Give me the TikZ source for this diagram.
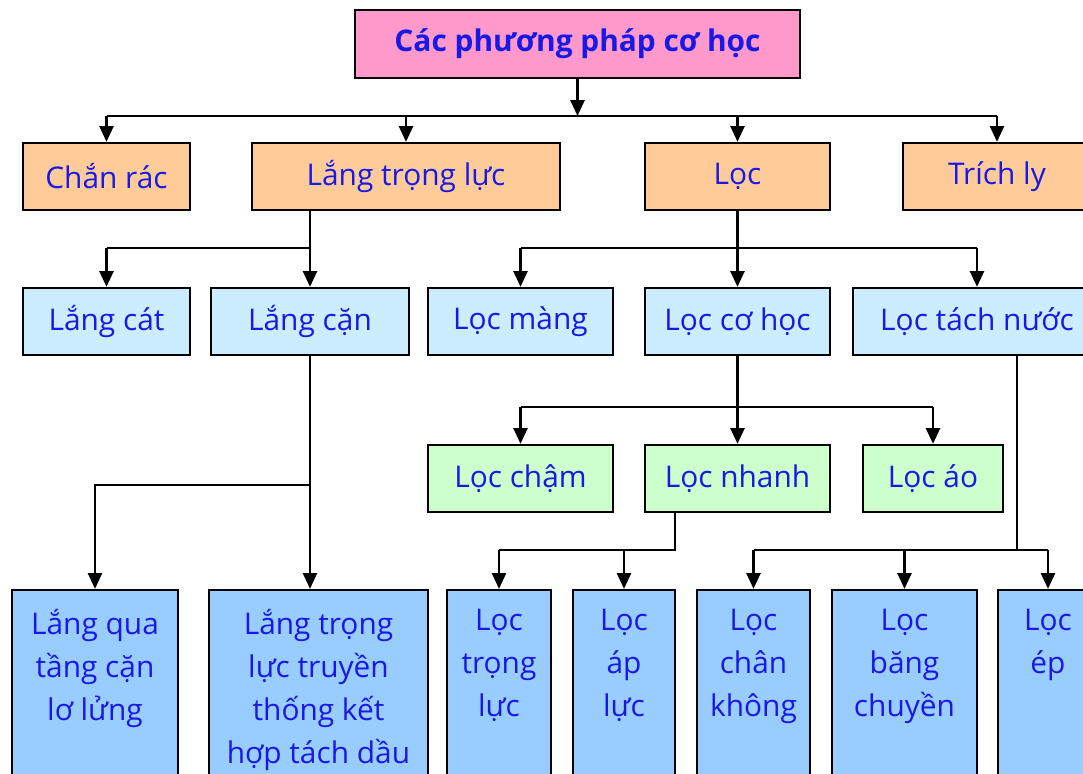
\documentclass[tikz,border=0pt]{standalone}
\usepackage{fontspec}
\setmainfont{Open Sans}
\usetikzlibrary{arrows.meta}
\definecolor{titlepink}{RGB}{255,153,204}
\definecolor{boxorange}{RGB}{255,204,153}
\definecolor{boxpale}{RGB}{204,236,255}
\definecolor{boxgreen}{RGB}{204,255,204}
\definecolor{boxblue}{RGB}{153,204,255}
\definecolor{txtblue}{RGB}{25,25,230}

\begin{document}
\begin{tikzpicture}[x=0.02cm, y=-0.02cm,
    box/.style={draw, line width=1.3pt, inner sep=0pt, text=txtblue, font=\fontsize{17}{24.4}\selectfont},
    lvla/.style={box, fill=boxorange, minimum height=1.34cm},
    lvlb/.style={box, fill=boxpale, minimum height=1.34cm},
    lvlc/.style={box, fill=boxgreen, minimum height=1.34cm},
    lvld/.style={box, fill=boxblue, minimum height=4cm},
    toptext/.style={inner sep=0pt, align=center, text=txtblue, font=\fontsize{17}{24.4}\selectfont, anchor=north, yshift=-0.4cm},
    ln/.style={line width=1.3pt},
    arr/.style={line width=1.3pt, -{Triangle[length=9pt,width=8pt]}}]
    \useasboundingbox (0,0) rectangle (1083,774);
    \clip (0,0) rectangle (1083,774);

    % title
    \node[box, fill=titlepink, minimum width=8.9cm, minimum height=1.36cm, font=\fontsize{17}{22}\selectfont\bfseries] (title) at (577.5,44) {Các phương pháp cơ học};

    % first row
    \node[lvla, minimum width=3.34cm] (chan) at (106.5,176.5) {Chắn rác};
    \node[lvla, minimum width=6.16cm] (langtl) at (406,176.5) {Lắng trọng lực};
    \node[lvla, minimum width=3.7cm] (loc) at (737.5,176.5) {Lọc};
    \node[lvla, minimum width=3.76cm] (trich) at (997,176.5) {Trích ly};

    % second row
    \node[lvlb, minimum width=3.34cm] (langcat) at (106.5,321.5) {Lắng cát};
    \node[lvlb, minimum width=3.96cm] (langcan) at (310,321.5) {Lắng cặn};
    \node[lvlb, minimum width=3.7cm] (locmang) at (520.5,321.5) {Lọc màng};
    \node[lvlb, minimum width=3.7cm] (loccohoc) at (737.5,321.5) {Lọc cơ học};
    \node[lvlb, minimum width=4.96cm] (loctach) at (977,321.5) {Lọc tách nước};

    % third row
    \node[lvlc, minimum width=3.7cm] (locham) at (520.5,478.5) {Lọc chậm};
    \node[lvlc, minimum width=3.7cm] (locnhanh) at (737.5,478.5) {Lọc nhanh};
    \node[lvlc, minimum width=2.8cm] (locao) at (933,478.5) {Lọc áo};

    % fourth row
    \node[lvld, minimum width=3.32cm, label={[toptext]north:Lắng qua\\tầng cặn\\lơ lửng}] (langqua) at (95,690) {};
    \node[lvld, minimum width=4.38cm, label={[toptext]north:Lắng trọng\\lực truyền\\thống kết\\hợp tách dầu}] (langtltt) at (318.5,690) {};
    \node[lvld, minimum width=2.08cm, label={[toptext]north:Lọc\\trọng\\lực}] (loctl) at (499,690) {};
    \node[lvld, minimum width=2.04cm, label={[toptext]north:Lọc\\áp\\lực}] (locap) at (624,690) {};
    \node[lvld, minimum width=2.26cm, label={[toptext]north:Lọc\\chân\\không}] (locck) at (753.5,690) {};
    \node[lvld, minimum width=2.9cm, label={[toptext]north:Lọc\\băng\\chuyền}] (locbc) at (904.5,690) {};
    \node[lvld, minimum width=2cm, label={[toptext]north:Lọc\\ép}] (locep) at (1048,690) {};

    % bus lines
    \coordinate (busa) at (0,116);
    \coordinate (busb) at (0,248);
    \coordinate (busc) at (0,407);
    \coordinate (busd) at (0,485);
    \coordinate (nh) at (675,550);
    \coordinate (tn) at (1017,550);

    \draw[arr] (title.south) -- (title.south |- busa);
    \draw[ln] (chan.north |- busa) -- (trich.north |- busa);
    \foreach \n in {chan,langtl,loc,trich}
        \draw[arr] (\n.north |- busa) -- (\n.north);

    \draw[ln] (langtl.south -| langcan) -- (langcan |- busb);
    \draw[ln] (langcat.north |- busb) -- (langcan.north |- busb);
    \foreach \n in {langcat,langcan}
        \draw[arr] (\n.north |- busb) -- (\n.north);

    \draw[ln] (loc.south) -- (loc.south |- busb);
    \draw[ln] (locmang.north |- busb) -- (loctach.north |- busb);
    \foreach \n in {locmang,loccohoc,loctach}
        \draw[arr] (\n.north |- busb) -- (\n.north);

    \draw[ln] (loccohoc.south) -- (loccohoc.south |- busc);
    \draw[ln] (locham.north |- busc) -- (locao.north |- busc);
    \foreach \n in {locham,locnhanh,locao}
        \draw[arr] (\n.north |- busc) -- (\n.north);

    \draw[arr] (langcan.south) -- (langcan.south |- langtltt.north);
    \draw[arr] (langcan.south |- busd) -| (langqua.north);

    \draw[ln] (locnhanh.south -| nh) -- (nh) -- (loctl.north |- nh);
    \foreach \n in {loctl,locap}
        \draw[arr] (\n.north |- nh) -- (\n.north);

    \draw[ln] (loctach.south -| tn) -- (tn) -- (locck.north |- tn);
    \draw[ln] (tn) -- (locep.north |- tn);
    \foreach \n in {locck,locbc,locep}
        \draw[arr] (\n.north |- tn) -- (\n.north);
\end{tikzpicture}
\end{document}
